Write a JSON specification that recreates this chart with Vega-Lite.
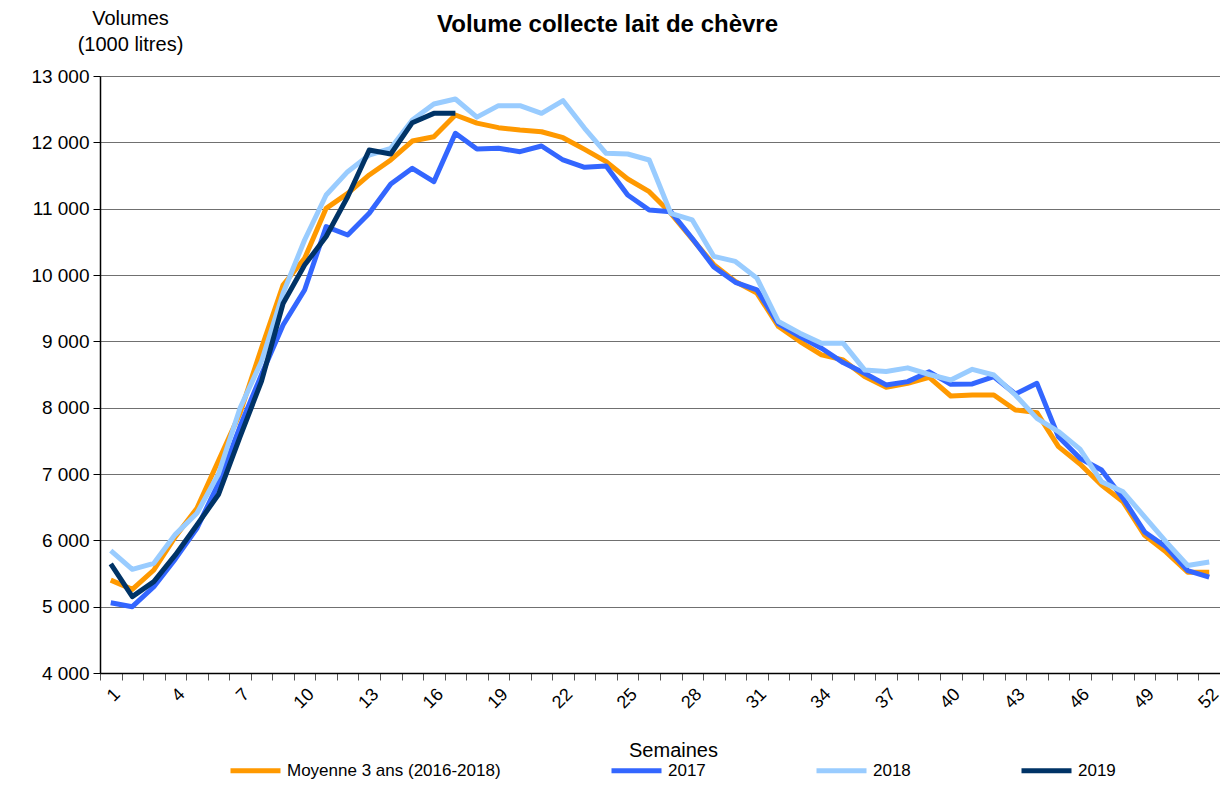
{
  "$schema": "https://vega.github.io/schema/vega-lite/v6.json",
  "width": 1120,
  "height": 597,
  "autosize": {"type": "none"},
  "padding": {"left": 100, "top": 76, "right": 0, "bottom": 114},
  "background": "white",
  "config": {
    "font": "Liberation Sans",
    "view": {"stroke": null},
    "axis": {"labelColor": "black", "titleColor": "black", "labelFont": "Liberation Sans", "titleFont": "Liberation Sans", "titleFontWeight": "normal"}
  },
  "title": {
    "text": "Volume collecte lait de chèvre",
    "font": "Liberation Sans",
    "fontSize": 24,
    "fontWeight": "bold",
    "color": "black",
    "anchor": "start",
    "frame": "group",
    "dx": 337,
    "dy": 33
  },
  "data": {
    "values": [
      {"week": 1, "Moyenne": 5400, "2017": 5060, "2018": 5845, "2019": 5644},
      {"week": 2, "Moyenne": 5261, "2017": 5000, "2018": 5563, "2019": 5151},
      {"week": 3, "Moyenne": 5553, "2017": 5300, "2018": 5654, "2019": 5377},
      {"week": 4, "Moyenne": 6056, "2017": 5720, "2018": 6090, "2019": 5780},
      {"week": 5, "Moyenne": 6483, "2017": 6181, "2018": 6408, "2019": 6232},
      {"week": 6, "Moyenne": 7200, "2017": 6860, "2018": 7000, "2019": 6690},
      {"week": 7, "Moyenne": 7915, "2017": 7715, "2018": 7990, "2019": 7560},
      {"week": 8, "Moyenne": 8900, "2017": 8500, "2018": 8700, "2019": 8400},
      {"week": 9, "Moyenne": 9850, "2017": 9246, "2018": 9724, "2019": 9570},
      {"week": 10, "Moyenne": 10251, "2017": 9774, "2018": 10528, "2019": 10150},
      {"week": 11, "Moyenne": 11005, "2017": 10729, "2018": 11206, "2019": 10580},
      {"week": 12, "Moyenne": 11231, "2017": 10603, "2018": 11558, "2019": 11180},
      {"week": 13, "Moyenne": 11508, "2017": 10930, "2018": 11809, "2019": 11884},
      {"week": 14, "Moyenne": 11734, "2017": 11372, "2018": 11910, "2019": 11824},
      {"week": 15, "Moyenne": 12020, "2017": 11608, "2018": 12337, "2019": 12296},
      {"week": 16, "Moyenne": 12085, "2017": 11407, "2018": 12578, "2019": 12437},
      {"week": 17, "Moyenne": 12412, "2017": 12136, "2018": 12653, "2019": 12437},
      {"week": 18, "Moyenne": 12290, "2017": 11900, "2018": 12380},
      {"week": 19, "Moyenne": 12221, "2017": 11910, "2018": 12553},
      {"week": 20, "Moyenne": 12186, "2017": 11859, "2018": 12553},
      {"week": 21, "Moyenne": 12160, "2017": 11945, "2018": 12437},
      {"week": 22, "Moyenne": 12070, "2017": 11734, "2018": 12628},
      {"week": 23, "Moyenne": 11894, "2017": 11623, "2018": 12211},
      {"week": 24, "Moyenne": 11709, "2017": 11643, "2018": 11834},
      {"week": 25, "Moyenne": 11447, "2017": 11206, "2018": 11824},
      {"week": 26, "Moyenne": 11256, "2017": 10980, "2018": 11734},
      {"week": 27, "Moyenne": 10930, "2017": 10955, "2018": 10930},
      {"week": 28, "Moyenne": 10540, "2017": 10550, "2018": 10830},
      {"week": 29, "Moyenne": 10155, "2017": 10120, "2018": 10280},
      {"week": 30, "Moyenne": 9903, "2017": 9890, "2018": 10205},
      {"week": 31, "Moyenne": 9727, "2017": 9777, "2018": 9953},
      {"week": 32, "Moyenne": 9223, "2017": 9263, "2018": 9299},
      {"week": 33, "Moyenne": 8997, "2017": 9072, "2018": 9123},
      {"week": 34, "Moyenne": 8796, "2017": 8896, "2018": 8972},
      {"week": 35, "Moyenne": 8720, "2017": 8680, "2018": 8972},
      {"week": 36, "Moyenne": 8469, "2017": 8519, "2018": 8569},
      {"week": 37, "Moyenne": 8308, "2017": 8343, "2018": 8544},
      {"week": 38, "Moyenne": 8368, "2017": 8393, "2018": 8600},
      {"week": 39, "Moyenne": 8457, "2017": 8540, "2018": 8500},
      {"week": 40, "Moyenne": 8176, "2017": 8352, "2018": 8417},
      {"week": 41, "Moyenne": 8191, "2017": 8357, "2018": 8578},
      {"week": 42, "Moyenne": 8191, "2017": 8467, "2018": 8492},
      {"week": 43, "Moyenne": 7965, "2017": 8206, "2018": 8191},
      {"week": 44, "Moyenne": 7925, "2017": 8367, "2018": 7839},
      {"week": 45, "Moyenne": 7412, "2017": 7560, "2018": 7640},
      {"week": 46, "Moyenne": 7150, "2017": 7236, "2018": 7375},
      {"week": 47, "Moyenne": 6833, "2017": 7060, "2018": 6884},
      {"week": 48, "Moyenne": 6581, "2017": 6631, "2018": 6732},
      {"week": 49, "Moyenne": 6076, "2017": 6126, "2018": 6354},
      {"week": 50, "Moyenne": 5823, "2017": 5899, "2018": 5975},
      {"week": 51, "Moyenne": 5520, "2017": 5545, "2018": 5621},
      {"week": 52, "Moyenne": 5520, "2017": 5444, "2018": 5672}
    ]
  },
  "transform": [
    {"fold": ["Moyenne", "2017", "2018", "2019"], "as": ["serie", "value"]}
  ],
  "mark": {"type": "line", "strokeWidth": 5, "strokeJoin": "round", "clip": true},
  "encoding": {
    "x": {
      "field": "week",
      "type": "quantitative",
      "scale": {"domain": [0.5, 52.5], "nice": false, "zero": false},
      "axis": {
        "title": "Semaines",
        "titleFontSize": 20,
        "titleX": 573,
        "titleY": 77,
        "titleBaseline": "middle",
        "titleAlign": "center",
        "values": [0.5,1.5,2.5,3.5,4.5,5.5,6.5,7.5,8.5,9.5,10.5,11.5,12.5,13.5,14.5,15.5,16.5,17.5,18.5,19.5,20.5,21.5,22.5,23.5,24.5,25.5,26.5,27.5,28.5,29.5,30.5,31.5,32.5,33.5,34.5,35.5,36.5,37.5,38.5,39.5,40.5,41.5,42.5,43.5,44.5,45.5,46.5,47.5,48.5,49.5,50.5,51.5,52.5],
        "labelExpr": "(datum.value + 0.5) % 3 == 1 ? format(datum.value + 0.5, 'd') : ''",
        "labelOffset": 10.77,
        "labelAngle": -45,
        "labelFontSize": 18,
        "labelOverlap": false,
        "labelPadding": 5,
        "labelFlush": false,
        "labelBound": false,
        "grid": false,
        "domainColor": "black",
        "domainWidth": 1.5,
        "tickColor": "#555555",
        "tickSize": 7,
        "tickWidth": 1
      }
    },
    "y": {
      "field": "value",
      "type": "quantitative",
      "scale": {"domain": [4000, 13000], "nice": false, "zero": false},
      "axis": {
        "title": ["Volumes", "(1000 litres)"],
        "titleAngle": 0,
        "titleFontSize": 20,
        "titleAlign": "center",
        "titleBaseline": "top",
        "titleX": 30,
        "titleY": -68,
        "titleLineHeight": 26,
        "values": [4000, 5000, 6000, 7000, 8000, 9000, 10000, 11000, 12000, 13000],
        "labelExpr": "replace(format(datum.value, ',d'), ',', ' ')",
        "labelFontSize": 19,
        "labelPadding": 4,
        "grid": true,
        "gridColor": "#707070",
        "gridWidth": 1.2,
        "domainColor": "black",
        "domainWidth": 1.5,
        "tickColor": "black",
        "tickSize": 7
      }
    },
    "color": {
      "field": "serie",
      "type": "nominal",
      "scale": {"domain": ["Moyenne", "2017", "2018", "2019"], "range": ["#FF9900", "#3366FF", "#99CCFF", "#003366"]},
      "legend": {
        "title": null,
        "orient": "none",
        "direction": "horizontal",
        "columns": 4,
        "legendX": 128,
        "legendY": 667,
        "symbolType": "stroke",
        "symbolSize": 2500,
        "symbolStrokeWidth": 5,
        "labelFontSize": 17,
        "labelColor": "black",
        "labelFont": "Liberation Sans",
        "labelOffset": 4,
        "columnPadding": 100,
        "labelLimit": 400,
        "labelExpr": "datum.label == 'Moyenne' ? 'Moyenne 3 ans (2016-2018)' : datum.label"
      }
    }
  }
}
